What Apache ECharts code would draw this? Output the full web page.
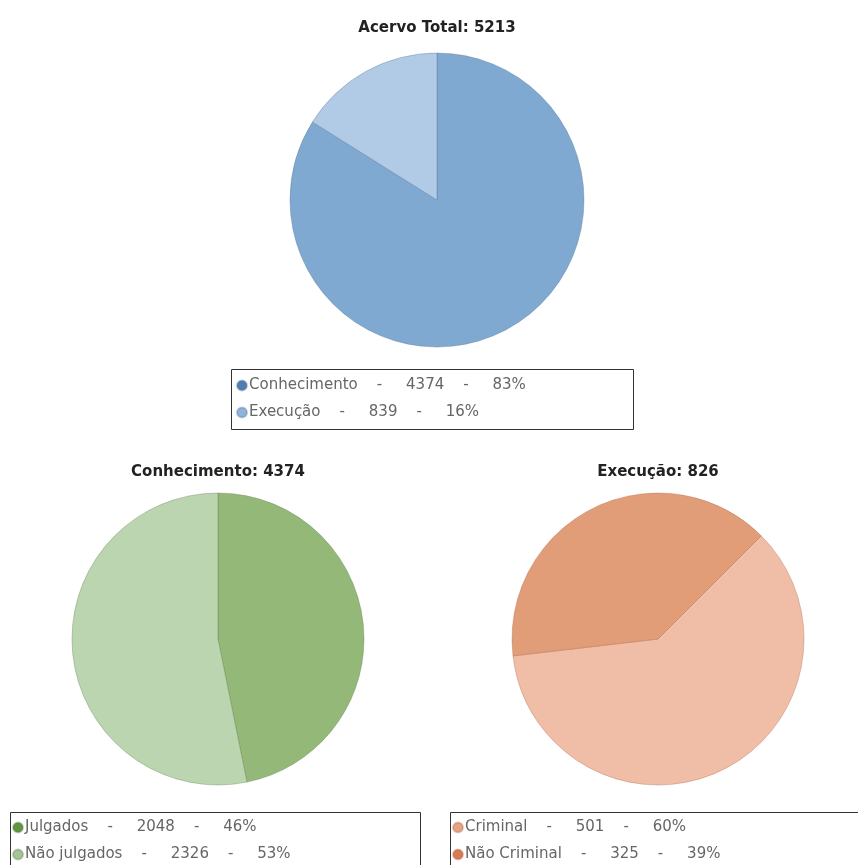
<!DOCTYPE html>
<html>
<head>
<meta charset="utf-8">
<script src="https://cdn.jsdelivr.net/npm/echarts@6/dist/echarts.min.js"></script>
<style>
html, body { margin: 0; padding: 0; background: #fff; }
#chart { width: 858px; height: 865px; }
</style>
</head>
<body>
<div id="chart"></div>
<script>
// dados
const acervoNomes = ['Conhecimento', 'Execução']
const acervoValores = [4374, 839]
const conhecNomes = ['Julgados', 'Não julgados']
const conhecValores = [2048, 2326]
const execNomes = ['Criminal', 'Não Criminal']
const execValores = [501, 325]
const titulos = ['Acervo Total: 5213', 'Conhecimento: 4374', 'Execução: 826']

const sliceColors = [
  ['#80a9d1', '#b1cae5'],
  ['#93b878', '#bad5b0'],
  ['#f0bda6', '#e09d78']
]
const markerColors = [
  ['#4f7fb0', '#8fb3da'],
  ['#5f9640', '#a5c497'],
  ['#e5a385', '#d97a52']
]

const chart = echarts.init(document.getElementById('chart'))

function buildData (names, values, colors) {
  return names.map((n, i) => ({
    name: n,
    value: values[i],
    itemStyle: { color: colors[i] }
  }))
}

// texto da legenda: nome - valor - percentual (truncado)
const lookup = {}
;[[acervoNomes, acervoValores], [conhecNomes, conhecValores], [execNomes, execValores]].forEach(([names, values]) => {
  const total = values.reduce((a, b) => a + b, 0)
  names.forEach((n, i) => {
    lookup[n] = { value: values[i], pct: Math.floor(values[i] / total * 100) }
  })
})

function legend (names, colors, left, top) {
  return {
    orient: 'vertical',
    left: left,
    top: top,
    icon: 'circle',
    itemWidth: 10,
    itemHeight: 10,
    itemGap: 12,
    padding: 0,
    selectedMode: false,
    data: names.map((n, i) => ({ name: n, itemStyle: { color: colors[i] } })),
    textStyle: {
      fontFamily: 'DejaVu Sans',
      fontSize: 15,
      color: '#666',
      padding: [0, 0, 0, -3]
    },
    formatter: function (name) {
      const d = lookup[name]
      return name + '    -     ' + d.value + '    -     ' + d.pct + '%'
    }
  }
}

const titleStyle = {
  fontFamily: 'DejaVu Sans',
  fontSize: 15,
  fontWeight: 'bold',
  color: '#222'
}

const pieBase = {
  type: 'pie',
  radius: 147,
  clockwise: true,
  label: { show: false },
  labelLine: { show: false },
  silent: true,
  animation: false,
  emphasis: { disabled: true }
}

chart.setOption({
  backgroundColor: '#fff',
  title: [
    { text: titulos[0], left: 437, top: 21, textAlign: 'center', textStyle: titleStyle, padding: 0 },
    { text: titulos[1], left: 218, top: 465, textAlign: 'center', textStyle: titleStyle, padding: 0 },
    { text: titulos[2], left: 658, top: 465, textAlign: 'center', textStyle: titleStyle, padding: 0 }
  ],
  legend: [
    legend(acervoNomes, markerColors[0], 236, 378),
    legend(conhecNomes, markerColors[1], 12, 820),
    legend(execNomes, markerColors[2], 452, 820)
  ],
  graphic: [
    { type: 'rect', shape: { x: 231.5, y: 369.5, width: 402, height: 60 }, style: { fill: null, stroke: '#333', lineWidth: 1 } },
    { type: 'rect', shape: { x: 10.5, y: 812.5, width: 410, height: 60 }, style: { fill: null, stroke: '#333', lineWidth: 1 } },
    { type: 'rect', shape: { x: 450.5, y: 812.5, width: 420, height: 60 }, style: { fill: null, stroke: '#333', lineWidth: 1 } }
  ],
  series: [
    Object.assign({}, pieBase, {
      center: [437, 200],
      startAngle: 90,
      itemStyle: { borderColor: 'rgba(80,110,150,0.35)', borderWidth: 1 },
      data: buildData(acervoNomes, acervoValores, sliceColors[0])
    }),
    Object.assign({}, pieBase, {
      center: [218, 639],
      startAngle: 90,
      radius: 146,
      itemStyle: { borderColor: 'rgba(90,120,70,0.35)', borderWidth: 1 },
      data: buildData(conhecNomes, conhecValores, sliceColors[1])
    }),
    Object.assign({}, pieBase, {
      center: [658, 639],
      startAngle: 45,
      radius: 146,
      itemStyle: { borderColor: 'rgba(170,100,70,0.35)', borderWidth: 1 },
      data: buildData(execNomes, execValores, sliceColors[2])
    })
  ]
})
</script>
</body>
</html>
